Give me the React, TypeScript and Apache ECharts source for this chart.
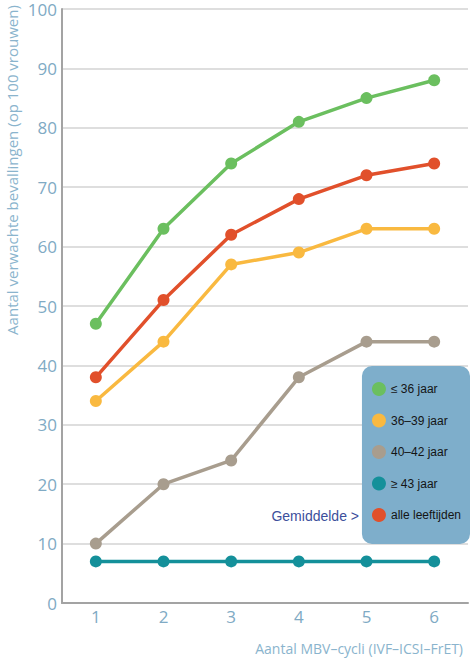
import React, { useEffect, useRef } from "react";
import * as echarts from "echarts";

const categories = ["1", "2", "3", "4", "5", "6"];
const seriesNames = ["≤ 36 jaar", "36–39 jaar", "40–42 jaar", "≥ 43 jaar", "alle leeftijden"];
const le36 = [47, 63, 74, 81, 85, 88];
const a36_39 = [34, 44, 57, 59, 63, 63];
const a40_42 = [10, 20, 24, 38, 44, 44];
const ge43 = [7, 7, 7, 7, 7, 7];
const alle = [38, 51, 62, 68, 72, 74];
const colors = ["#6bbf5f", "#f9b940", "#a89d8e", "#14909a", "#e1502b"];
const yTitle = "Aantal verwachte bevallingen (op 100 vrouwen)";
const xTitle = "Aantal MBV–cycli (IVF–ICSI–FrET)";
const noteText = "Gemiddelde >";

export default function App() {
  const ref = useRef<HTMLDivElement>(null);
  useEffect(() => {
    if (!ref.current) return;
    const chart = echarts.init(ref.current, undefined, { renderer: "svg" });
    const data = [le36, a36_39, a40_42, ge43, alle];
    const tickColor = "#80aac4";
    const order = [3, 2, 1, 4, 0];
    chart.setOption({
      animation: false,
      grid: { left: 62, right: 6, top: 9, bottom: 56, containLabel: false },
      xAxis: {
        type: "category",
        data: categories,
        boundaryGap: true,
        axisLine: { lineStyle: { color: "#a3a3a3", width: 2 } },
        axisTick: { show: false },
        axisLabel: { color: tickColor, fontSize: 17, margin: 5, fontFamily: "'Open Sans', sans-serif" },
      },
      yAxis: {
        type: "value",
        min: 0,
        max: 100,
        interval: 10,
        axisLine: { show: true, lineStyle: { color: "#a3a3a3", width: 2 } },
        axisTick: { show: false },
        axisLabel: { color: tickColor, fontSize: 17, margin: 5, fontFamily: "'Open Sans', sans-serif" },
        splitLine: { lineStyle: { color: "#d3d3d3", width: 1.5 } },
      },
      legend: {
        data: seriesNames,
        orient: "vertical",
        right: 4,
        top: 366,
        icon: "circle",
        itemWidth: 14,
        itemHeight: 14,
        itemGap: 17.5,
        itemTextGap: 7,
        padding: [16, 9, 22, 10],
        backgroundColor: "#7eaecb",
        borderRadius: 10,
        selectedMode: false,
        textStyle: {
          color: "#141414",
          fontSize: 12,
          fontFamily: "'Liberation Sans', Arial, sans-serif",
        },
      },
      series: order.map((i) => ({
        name: seriesNames[i],
        type: "line",
        data: data[i],
        symbol: "circle",
        symbolSize: 12,
        itemStyle: { color: colors[i] },
        lineStyle: { color: colors[i], width: 3.5 },
        z: 2 + order.indexOf(i),
      })),
      graphic: [
        {
          type: "text",
          x: 12,
          y: 170,
          rotation: Math.PI / 2,
          style: {
            text: yTitle,
            fill: "#8ab4cd",
            fontSize: 15,
            fontFamily: "'Open Sans', sans-serif",
            align: "center",
            verticalAlign: "middle",
          },
        },
        {
          type: "text",
          x: 463,
          y: 648,
          style: {
            text: xTitle,
            fill: "#8ab4cd",
            fontSize: 14,
            fontFamily: "'Open Sans', sans-serif",
            align: "right",
            verticalAlign: "middle",
          },
        },
        {
          type: "text",
          x: 359,
          y: 516,
          z: 100,
          style: {
            text: noteText,
            fill: "#3c4f9c",
            fontSize: 14,
            fontFamily: "'Liberation Sans', Arial, sans-serif",
            align: "right",
            verticalAlign: "middle",
          },
        },
      ],
    });
    return () => chart.dispose();
  }, []);
  return (
    <div
      ref={ref}
      style={{ position: "fixed", left: 0, top: 0, width: 474, height: 659, background: "#fff" }}
    />
  );
}
